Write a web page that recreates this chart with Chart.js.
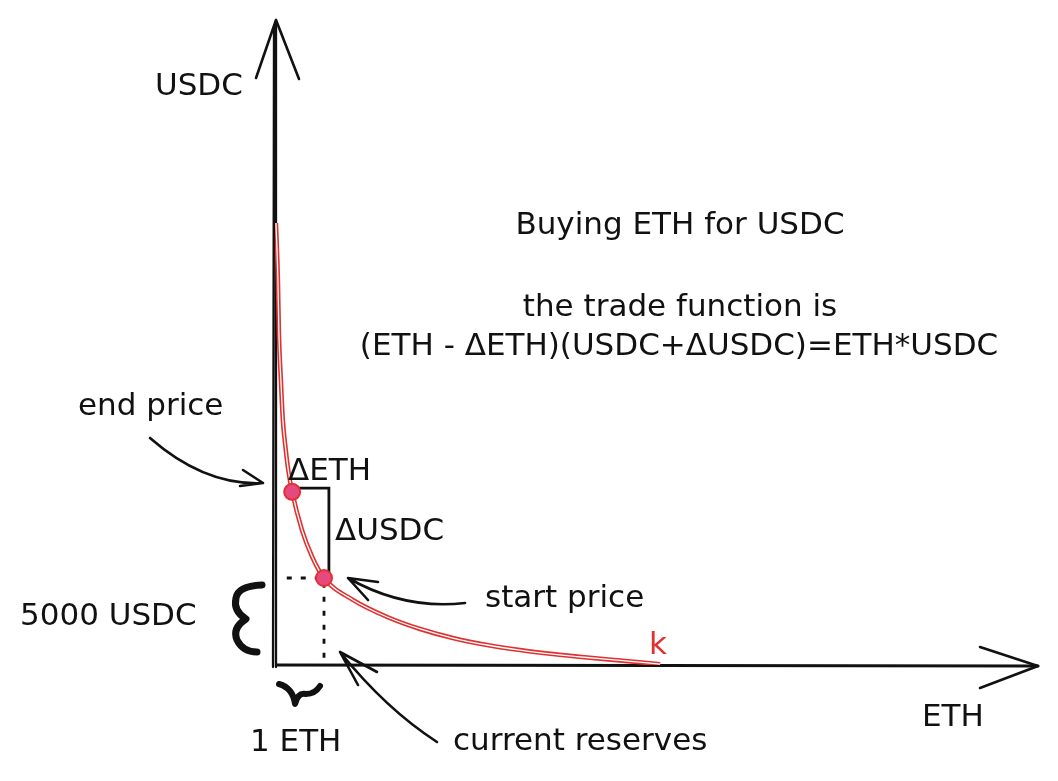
<!DOCTYPE html>
<html>
<head>
<meta charset="utf-8">
<script src="https://cdn.jsdelivr.net/npm/chart.js@4.4.1/dist/chart.umd.min.js"></script>
<style>
  html, body { margin: 0; padding: 0; background: #fff; }
  #wrap { position: relative; width: 1058px; height: 781px; }
</style>
</head>
<body>
<div id="wrap"><canvas id="myChart"></canvas></div>
<script>
// constant product curve (ETH reserve vs USDC reserve)
const curveEth  = [0.02, 0.06, 0.08, 0.12, 0.16, 0.22, 0.27, 0.35, 0.55, 0.76, 1.0, 1.59, 2.29, 2.96, 3.63, 4.33, 5.0, 5.67, 6.37, 7.04, 7.86];
const curveUsdc = [25400, 22130, 19080, 16380, 14080, 12360, 11210, 9950, 7760, 6210, 5000, 3740, 2760, 2070, 1550, 1150, 860, 630, 430, 260, 50];

// end price / start price
const tradeEth  = [0.35, 1.0];
const tradeUsdc = [9950, 5000];

// ΔETH / ΔUSDC bracket
const bracketEth  = [0.35, 1.1, 1.1];
const bracketUsdc = [10170, 10170, 5350];

// dotted guide to the current reserves
const guideEth  = [0.24, 1.0, 1.0];
const guideUsdc = [5000, 5000, 0];

const X_MAX = 15.57;
const Y_MAX = 37070;

const pts = (xs, ys) => xs.map((x, i) => ({ x: x, y: ys[i] }));

const INK = '#111111';
const RED = '#e03131';
const FONT = '31px "DejaVu Sans"';

function arrow(ctx, from, ctrl, to, barbA, barbB) {
  ctx.beginPath();
  ctx.moveTo(from[0], from[1]);
  if (ctrl) ctx.quadraticCurveTo(ctrl[0], ctrl[1], to[0], to[1]);
  else ctx.lineTo(to[0], to[1]);
  ctx.moveTo(barbA[0], barbA[1]);
  ctx.lineTo(to[0], to[1]);
  ctx.lineTo(barbB[0], barbB[1]);
  ctx.stroke();
}

const sketch = {
  id: 'sketch',
  beforeDatasetsDraw(chart) {
    const ctx = chart.ctx;
    const x0 = chart.scales.x.getPixelForValue(0);
    const y0 = chart.scales.y.getPixelForValue(0);
    const xEnd = chart.scales.x.getPixelForValue(X_MAX);
    const yEnd = chart.scales.y.getPixelForValue(Y_MAX);
    ctx.save();
    ctx.strokeStyle = INK;
    ctx.lineCap = 'round';
    ctx.lineJoin = 'round';
    // y axis (double stroke like the sketch)
    ctx.lineWidth = 2.3;
    ctx.beginPath();
    ctx.moveTo(x0 - 2, y0 + 2); ctx.lineTo(x0 - 1, yEnd + 8);
    ctx.moveTo(x0 + 1, y0 + 2); ctx.lineTo(x0 + 1, yEnd);
    ctx.stroke();
    ctx.lineWidth = 2.6;
    arrow(ctx, [x0 + 1, yEnd], null, [x0 + 1, yEnd], [x0 - 19, yEnd + 58], [x0 + 24, yEnd + 59]);
    // x axis
    ctx.lineWidth = 3;
    ctx.beginPath();
    ctx.moveTo(x0 + 2, y0); ctx.lineTo(xEnd, y0 + 1);
    ctx.stroke();
    ctx.lineWidth = 2.6;
    arrow(ctx, [xEnd, y0 + 1], null, [xEnd, y0 + 1], [xEnd - 58, y0 - 18], [xEnd - 58, y0 + 23]);
    ctx.restore();
  },
  afterDatasetsDraw(chart) {
    const ctx = chart.ctx;
    ctx.save();
    ctx.strokeStyle = INK;
    ctx.fillStyle = INK;
    ctx.lineCap = 'round';
    ctx.lineJoin = 'round';

    // pointer arrows
    ctx.lineWidth = 2.6;
    arrow(ctx, [150, 438], [205, 486], [263, 483], [243, 470], [240, 486]);
    arrow(ctx, [465, 603], [404, 610], [348, 578], [378, 582], [368, 600]);
    arrow(ctx, [437, 742], [386, 709], [340, 652], [377, 672], [358, 685]);

    // brace for 5000 USDC
    ctx.lineWidth = 7;
    ctx.beginPath();
    ctx.moveTo(262, 585);
    ctx.quadraticCurveTo(238, 586, 236, 598);
    ctx.quadraticCurveTo(233, 611, 246, 619);
    ctx.quadraticCurveTo(232, 628, 237, 640);
    ctx.quadraticCurveTo(243, 652, 257, 652);
    ctx.stroke();

    // squiggle for 1 ETH
    ctx.lineWidth = 6;
    ctx.beginPath();
    ctx.moveTo(279, 684);
    ctx.quadraticCurveTo(293, 688, 295, 704);
    ctx.quadraticCurveTo(298, 692, 306, 694);
    ctx.quadraticCurveTo(315, 694, 320, 686);
    ctx.stroke();

    // texts
    ctx.font = FONT;
    ctx.textBaseline = 'alphabetic';
    ctx.textAlign = 'left';
    ctx.fillText('USDC', 155, 95);
    ctx.fillText('end price', 78, 415);
    ctx.fillText('ΔETH', 288, 480);
    ctx.fillText('ΔUSDC', 335, 540);
    ctx.fillText('start price', 485, 607);
    ctx.fillText('5000 USDC', 20, 625);
    ctx.fillText('1 ETH', 250, 751);
    ctx.fillText('current reserves', 453, 750);
    ctx.fillText('ETH', 922, 726);
    ctx.textAlign = 'center';
    ctx.fillText('Buying ETH for USDC', 680, 234);
    ctx.fillText('the trade function is', 680, 316);
    ctx.fillText('(ETH - ΔETH)(USDC+ΔUSDC)=ETH*USDC', 679, 355);
    ctx.textAlign = 'left';
    ctx.fillStyle = RED;
    ctx.fillText('k', 649, 654);
    ctx.restore();
  }
};

const ctx = document.getElementById('myChart').getContext('2d');

new Chart(ctx, {
  type: 'line',
  data: {
    datasets: [
      {
        label: 'trade',
        data: pts(tradeEth, tradeUsdc),
        showLine: false,
        pointRadius: 8,
        pointBackgroundColor: '#e64980',
        pointBorderColor: RED,
        pointBorderWidth: 2,
        order: 0
      },
      {
        label: 'curve inner',
        data: pts(curveEth, curveUsdc),
        borderColor: '#ffffff',
        borderWidth: 1.3,
        pointRadius: 0,
        cubicInterpolationMode: 'monotone',
        order: 1
      },
      {
        label: 'curve',
        data: pts(curveEth, curveUsdc),
        borderColor: RED,
        borderWidth: 4.5,
        pointRadius: 0,
        cubicInterpolationMode: 'monotone',
        order: 2
      },
      {
        label: 'delta',
        data: pts(bracketEth, bracketUsdc),
        borderColor: INK,
        borderWidth: 2.8,
        pointRadius: 0,
        tension: 0,
        order: 3
      },
      {
        label: 'guide',
        data: pts(guideEth, guideUsdc),
        borderColor: INK,
        borderWidth: 2.8,
        borderDash: [5, 9],
        pointRadius: 0,
        tension: 0,
        order: 4
      }
    ]
  },
  options: {
    responsive: true,
    maintainAspectRatio: false,
    animation: false,
    layout: {
      padding: { left: 275, top: 20, right: 20, bottom: 116 }
    },
    plugins: {
      legend: { display: false },
      tooltip: { enabled: false }
    },
    scales: {
      x: { type: 'linear', min: 0, max: X_MAX, display: false },
      y: { type: 'linear', min: 0, max: Y_MAX, display: false }
    }
  },
  plugins: [sketch]
});
</script>
</body>
</html>
